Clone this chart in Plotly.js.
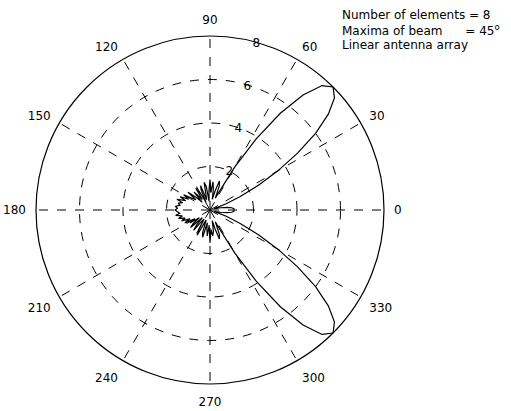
<!DOCTYPE html>
<html>
<head>
<meta charset="utf-8">
<script src="https://cdn.plot.ly/plotly-3.0.1.min.js"></script>
<style>html,body{margin:0;padding:0;background:#fff;}#chart{width:511px;height:411px;}</style>
</head>
<body>
<div id="chart"></div>
<script>
// Pattern angles (degrees) and magnitudes
const theta = [
  0,3,6,9,12,15,18,21,24,27,30,33,36,39,42,45,48,51,54,57,
  60,63,66,69,72,75,78,81,84,87,90,93,96,99,102,105,108,111,114,117,
  120,123,126,129,132,135,138,141,144,147,150,153,156,159,162,165,168,171,174,177,
  180,183,186,189,192,195,198,201,204,207,210,213,216,219,222,225,228,231,234,237,
  240,243,246,249,252,255,258,261,264,267,270,273,276,279,282,285,288,291,294,297,
  300,303,306,309,312,315,318,321,324,327,330,333,336,339,342,345,348,351,354,357,360
];
const magnitude = [
  1.1,1.1,1.0,0.8,0.5,0.3,0.2,0.8,1.5,2.5,3.6,4.8,6.0,7.0,7.7,8.0,7.7,6.8,5.5,3.9,
  2.3,1.0,0.6,1.2,1.4,0.9,0.5,1.0,1.3,0.8,1.4,0.9,0.4,1.1,1.3,0.7,0.5,1.2,1.0,0.4,
  0.9,1.2,0.6,0.8,1.1,0.5,0.9,1.3,0.8,1.0,1.4,1.1,1.5,1.2,1.6,1.3,1.5,1.4,1.6,1.5,
  1.6,1.5,1.4,1.6,1.3,1.5,1.2,1.4,1.0,1.3,0.8,1.1,0.6,1.0,1.2,0.5,0.9,1.2,0.6,0.5,
  1.0,1.3,0.7,0.5,1.1,1.3,0.6,0.9,1.2,0.7,1.5,0.9,1.2,1.0,0.5,0.9,1.4,1.2,0.6,1.0,
  2.3,3.9,5.5,6.8,7.7,8.0,7.7,7.0,6.0,4.8,3.6,2.5,1.5,0.8,0.2,0.3,0.5,0.8,1.0,1.1,1.1
];
const angleTicks = [0,30,60,90,120,150,180,210,240,270,300,330];
const angleLabels = ["0","30","60","90","120","150","180","210","240","270","300","330"];
const radialTicks = [2,4,6,8];
const radialLabels = ["2","4","6","8"];
const infoLines = ["Number of elements = 8", "Maxima of beam\u00a0\u00a0\u00a0\u00a0\u00a0 = 45<sup>o</sup>", "Linear antenna array"];

const data = [{
  type: 'scatterpolar',
  mode: 'lines',
  r: magnitude,
  theta: theta,
  line: {color: '#000', width: 1.2},
  hoverinfo: 'skip',
  showlegend: false
}];

const layout = {
  width: 511, height: 411,
  margin: {l: 0, r: 0, t: 0, b: 0},
  paper_bgcolor: '#fff',
  font: {family: 'DejaVu Sans', size: 12, color: '#000'},
  showlegend: false,
  polar: {
    domain: {x: [36/511, 384/511], y: [1 - 384/411, 1 - 36/411]},
    bgcolor: '#fff',
    radialaxis: {
      range: [0, 8],
      tickvals: radialTicks,
      ticktext: radialLabels,
      angle: 78,
      side: 'clockwise',
      tickangle: 78,
      ticklabelshift: 14,
      showline: false,
      ticks: '',
      gridcolor: '#000',
      griddash: 'dash',
      gridwidth: 1,
      tickfont: {family: 'DejaVu Sans', size: 12, color: '#000'}
    },
    angularaxis: {
      direction: 'counterclockwise',
      rotation: 0,
      tickvals: angleTicks,
      ticktext: angleLabels,
      showline: true,
      linecolor: '#000',
      linewidth: 1.2,
      ticks: 'outside',
      ticklen: 7,
      tickcolor: 'rgba(0,0,0,0)',
      gridcolor: '#000',
      griddash: 'dash',
      gridwidth: 1,
      tickfont: {family: 'DejaVu Sans', size: 12, color: '#000'}
    }
  },
  annotations: infoLines.map((t, i) => ({
    text: t, xref: 'paper', yref: 'paper',
    x: 340/511, y: 1 - (15 + 15*i)/411,
    xanchor: 'left', yanchor: 'middle', showarrow: false,
    font: {family: 'DejaVu Sans', size: 12, color: '#000'}
  }))
};

Plotly.newPlot('chart', data, layout, {displayModeBar: false, staticPlot: true});
</script>
</body>
</html>
